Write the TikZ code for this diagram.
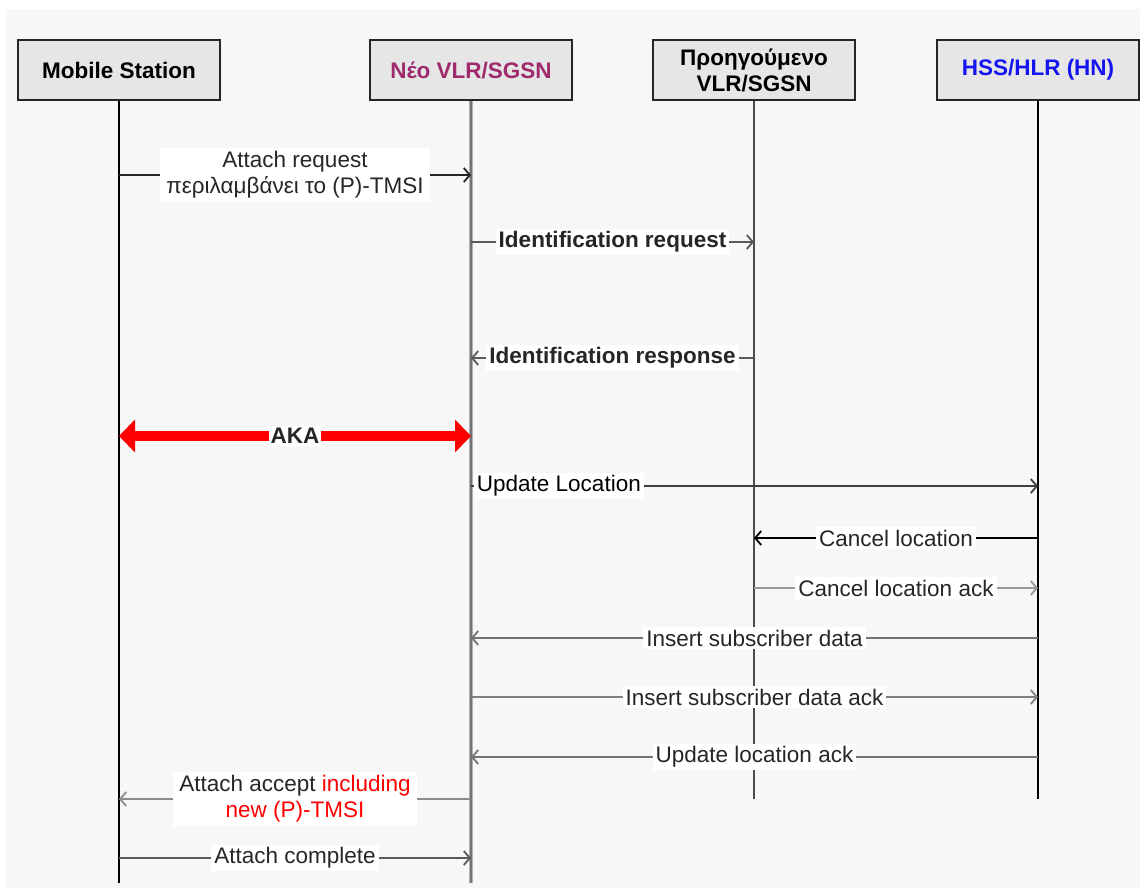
\documentclass[tikz,border=0pt]{standalone}
\usepackage{fontspec}
\setmainfont{Liberation Sans}
\usetikzlibrary{arrows.meta}
\definecolor{bgpanel}{HTML}{F7F7F7}
\definecolor{boxfill}{HTML}{E6E6E6}
\definecolor{newvlr}{RGB}{158,42,108}
\definecolor{hssblue}{RGB}{20,20,240}
\begin{document}
\begin{tikzpicture}[x=1pt,y=-1pt,
  font=\fontsize{22.5}{26}\selectfont,
  entity/.style={draw=black!85,line width=2.2pt,fill=boxfill,minimum width=202pt,
    minimum height=60pt,align=center,font=\fontsize{22.5}{26}\selectfont\bfseries,inner sep=0pt},
  life/.style={line width=2pt},
  msg/.style={line width=2pt,-{Straight Barb[length=6pt,width=14pt,line width=1.8pt]}},
  lbl/.style={fill=white,inner sep=3pt,align=center,text=black!85}]
  \useasboundingbox (0,0) rectangle (1140,890);
  \fill[bgpanel] (6,9) rectangle (1140,888);

  % participants
  \node[entity] (ms) at (119,70) {Mobile Station};
  \node[entity,text=newvlr] (nv) at (471,70) {Νέο VLR/SGSN};
  \node[entity] (ov) at (754,70) {Προηγούμενο\\VLR/SGSN};
  \node[entity,text=hssblue] (hs) at (1038,70) {HSS/HLR (HN)};

  % lifeline ends
  \coordinate (msend) at (119,883);
  \coordinate (nvend) at (471,883);
  \coordinate (ovend) at (754,799);
  \coordinate (hsend) at (1038,799);
  \draw[life,black] (ms.south) -- (msend);
  \draw[life,line width=4pt,black!30] (nv.south) -- (nvend);
  \draw[life,line width=1.2pt,black!55] (nv.south) -- (nvend);
  \draw[life,black!70] (ov.south) -- (ovend);
  \draw[life,line width=2.4pt,black] (hs.south) -- (hsend);

  % message rows
  \coordinate (r1) at (0,175);
  \coordinate (r2) at (0,242);
  \coordinate (r3) at (0,358);
  \coordinate (r4) at (0,436);
  \coordinate (r5) at (0,486);
  \coordinate (r6) at (0,538);
  \coordinate (r7) at (0,588);
  \coordinate (r8) at (0,638);
  \coordinate (r9) at (0,697);
  \coordinate (r10) at (0,757);
  \coordinate (r11) at (0,799);
  \coordinate (r12) at (0,858);

  \draw[msg,black!85] (ms |- r1) -- node[lbl,inner xsep=6pt,inner ysep=4pt] {Attach request\\περιλαμβάνει το (P)-TMSI} (nv |- r1);
  \draw[msg,black!65] (nv |- r2) -- node[lbl,font=\fontsize{22.5}{26}\selectfont\bfseries] {Identification request} (ov |- r2);
  \draw[msg,black!65] (ov |- r3) -- node[lbl,font=\fontsize{22.5}{26}\selectfont\bfseries] {Identification response} (nv |- r3);
  \draw[red,line width=10pt,{Triangle[length=16pt,width=32pt]}-{Triangle[length=16pt,width=32pt]}] (ms |- r4) -- node[lbl,inner sep=2pt,font=\fontsize{22.5}{26}\selectfont\bfseries] {AKA} (nv |- r4);
  \draw[msg,black!75] (nv |- r5) -- node[lbl,pos=0.155,text=black] {Update Location} (hs |- r5);
  \draw[msg,black] (hs |- r6) -- node[lbl] {Cancel location} (ov |- r6);
  \draw[msg,black!40] (ov |- r7) -- node[lbl] {Cancel location ack} (hs |- r7);
  \draw[msg,black!55] (hs |- r8) -- node[lbl] {Insert subscriber data} (nv |- r8);
  \draw[msg,black!50] (nv |- r9) -- node[lbl] {Insert subscriber data ack} (hs |- r9);
  \draw[msg,black!55] (hs |- r10) -- node[lbl] {Update location ack} (nv |- r10);
  \draw[msg,black!45] (nv |- r11) -- node[lbl,inner xsep=6pt,inner ysep=4pt] {Attach accept \textcolor{red}{including}\\\textcolor{red}{new (P)-TMSI}} (ms |- r11);
  \draw[msg,black!65] (ms |- r12) -- node[lbl] {Attach complete} (nv |- r12);
\end{tikzpicture}
\end{document}
